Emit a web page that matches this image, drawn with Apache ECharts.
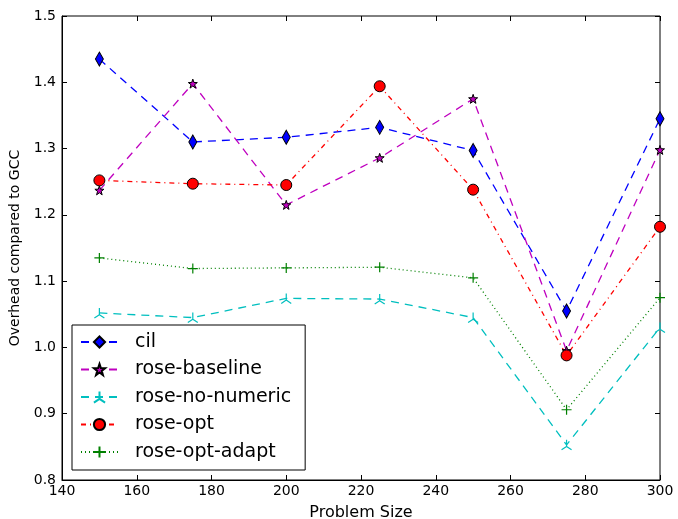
<!DOCTYPE html>
<html>
<head>
<meta charset="utf-8">
<script src="https://cdn.jsdelivr.net/npm/echarts@6/dist/echarts.min.js"></script>
<style>
  html, body { margin: 0; padding: 0; background: #fff; }
  #chart { width: 678px; height: 519px; }
</style>
</head>
<body>
<div id="chart"></div>
<script>
// problem sizes on the x axis
var sizes = [150, 175, 200, 225, 250, 275, 300]
// overhead relative to GCC, one array per variant
var cil = [1.435, 1.310, 1.317, 1.332, 1.297, 1.055, 1.345]
var roseBaseline = [1.237, 1.398, 1.215, 1.286, 1.375, 0.995, 1.298]
var roseNoNumeric = [1.052, 1.045, 1.074, 1.073, 1.045, 0.853, 1.030]
var roseOpt = [1.252, 1.247, 1.245, 1.394, 1.238, 0.988, 1.182]
var roseOptAdapt = [1.135, 1.119, 1.120, 1.121, 1.105, 0.906, 1.075]

var font = 'DejaVu Sans'
var starPath = 'path://M0,-10L2.35,-3.24L9.51,-3.09L3.8,1.24L5.88,8.09L0,4L-5.88,8.09L-3.8,1.24L-9.51,-3.09L-2.35,-3.24Z'
var triPath = 'path://M0,0L0,-10M0,0L-8.66,5M0,0L8.66,5'
var plusPath = 'path://M-5,0L5,0M0,-5L0,5'

function pairs (ys) {
  return sizes.map(function (x, i) { return [x, ys[i]] })
}

function mkSeries (name, ys, color, dash, symbol, size, filled) {
  return {
    name: name,
    type: 'line',
    data: pairs(ys),
    symbol: symbol,
    symbolSize: size,
    showAllSymbol: true,
    lineStyle: { color: color, width: 1.3, type: dash },
    itemStyle: filled
      ? { color: color, borderColor: '#000', borderWidth: 1 }
      : { color: color, borderColor: color, borderWidth: 1.2 },
    emphasis: { disabled: true },
    animation: false
  }
}

var chart = echarts.init(document.getElementById('chart'))
var inTicks = { show: true, inside: true, length: 5, lineStyle: { color: '#000' } }

chart.setOption({
  animation: false,
  grid: {
    left: 62, right: 18, top: 16, bottom: 39,
    outerBoundsMode: 'none',
    show: true, borderColor: '#000', borderWidth: 1
  },
  legend: {
    orient: 'vertical',
    left: 72,
    top: 325,
    padding: [6, 14, 7, 8],
    borderColor: '#000',
    borderWidth: 1,
    itemWidth: 37,
    itemHeight: 14,
    itemGap: 5.5,
    textStyle: { fontFamily: font, fontSize: 19, color: '#000', lineHeight: 22, padding: [0, 0, 0, 12] },
    data: ['cil', 'rose-baseline', 'rose-no-numeric', 'rose-opt', 'rose-opt-adapt']
  },
  xAxis: [{
    type: 'value',
    min: 140,
    max: 300,
    interval: 20,
    name: 'Problem Size',
    nameLocation: 'middle',
    nameGap: 25,
    nameTextStyle: { fontFamily: font, fontSize: 16, color: '#000' },
    axisLine: { show: true, lineStyle: { color: '#000' } },
    axisTick: inTicks,
    axisLabel: { fontFamily: font, fontSize: 14, color: '#000', margin: 4 },
    splitLine: { show: false }
  }, {
    type: 'value',
    position: 'top',
    min: 140,
    max: 300,
    interval: 20,
    axisLine: { show: false },
    axisTick: inTicks,
    axisLabel: { show: false },
    splitLine: { show: false }
  }],
  yAxis: [{
    type: 'value',
    min: 0.8,
    max: 1.5,
    interval: 0.1,
    name: 'Overhead compared to GCC',
    nameLocation: 'middle',
    nameGap: 37,
    nameTextStyle: { fontFamily: font, fontSize: 14, color: '#000' },
    axisLine: { show: true, lineStyle: { color: '#000' } },
    axisTick: inTicks,
    axisLabel: { fontFamily: font, fontSize: 14, color: '#000', margin: 6, formatter: function (v) { return v.toFixed(1) } },
    splitLine: { show: false }
  }, {
    type: 'value',
    position: 'right',
    min: 0.8,
    max: 1.5,
    interval: 0.1,
    axisLine: { show: false },
    axisTick: inTicks,
    axisLabel: { show: false },
    splitLine: { show: false }
  }],
  series: [
    mkSeries('cil', cil, '#0000ff', [8, 6], 'diamond', [8, 14], true),
    mkSeries('rose-baseline', roseBaseline, '#bf00bf', [8, 6], starPath, 9, true),
    mkSeries('rose-no-numeric', roseNoNumeric, '#00bfbf', [8, 6], triPath, 10, false),
    mkSeries('rose-opt', roseOpt, '#ff0000', [5, 4, 1, 4], 'circle', 11, true),
    mkSeries('rose-opt-adapt', roseOptAdapt, '#008000', [1, 3], plusPath, 10, false)
  ]
})
</script>
</body>
</html>
